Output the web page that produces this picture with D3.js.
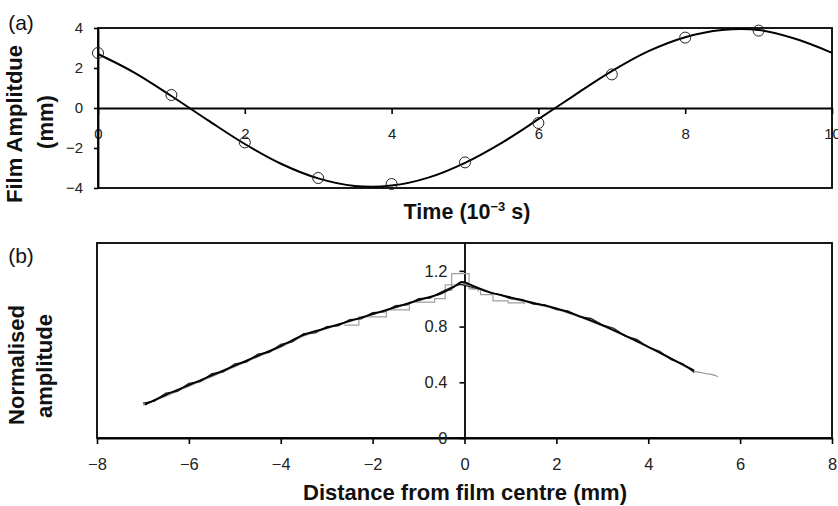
<!DOCTYPE html>
<html>
<head>
<meta charset="utf-8">
<script src="https://cdn.jsdelivr.net/npm/d3@7"></script>
<style>
  html, body { margin: 0; padding: 0; background: #fff; }
  svg { display: block; font-family: "Liberation Sans", Arial, sans-serif; }
</style>
</head>
<body>
<svg id="chart" width="838" height="506"></svg>
<script>
'use strict';

// (a) film amplitude vs time
var timeTicks = [0, 2, 4, 6, 8, 10];
var ampTicks = [-4, -2, 0, 2, 4];
var timeLine = [0, 0.5, 1, 1.5, 2, 2.5, 3, 3.5, 4, 4.5, 5, 5.5, 6, 6.5, 7, 7.5, 8, 8.5, 9, 9.5, 10];
var ampLine = [2.7, 1.76, 0.6, -0.62, -1.8, -2.8, -3.52, -3.9, -3.88, -3.48, -2.74, -1.74, -0.56, 0.66, 1.84, 2.84, 3.54, 3.9, 3.9, 3.46, 2.76];
var timePts = [0, 1, 2, 3, 4, 5, 6, 7, 8, 9];
var ampPts = [2.75, 0.65, -1.72, -3.5, -3.8, -2.72, -0.75, 1.68, 3.52, 3.87];

// (b) normalised amplitude vs distance
var distTicks = [-8, -6, -4, -2, 0, 2, 4, 6, 8];
var normTicks = [0, 0.4, 0.8, 1.2];
var distMain = [-6.96, -6.5, -6, -5.5, -5, -4.5, -4, -3.5, -3, -2.5, -2, -1.5, -1, -0.5, -0.25, -0.05, 0.2, 0.5, 1, 1.5, 2, 2.5, 3, 3.5, 4, 4.5, 5];
var normMain = [0.24, 0.31, 0.38, 0.45, 0.52, 0.59, 0.66, 0.74, 0.79, 0.84, 0.89, 0.94, 0.99, 1.04, 1.08, 1.12, 1.09, 1.05, 1.01, 0.97, 0.93, 0.875, 0.81, 0.735, 0.655, 0.57, 0.485];
var distBraid = [-7, -6.75, -6.5, -6.25, -6, -5.75, -5.5, -5.25, -5, -4.75, -4.5, -4.25, -4, -3.75, -3.5, -3.25, -3, -2.75, -2.5, -2.25, -2, -1.75, -1.5, -1.25, -1, -0.75, -0.5, -0.3, -0.1, 0.2, 0.4, 0.6, 0.8, 1, 1.25, 1.5, 1.75, 2, 2.25, 2.5, 2.75, 3, 3.25, 3.5, 3.75, 4, 4.25, 4.5, 4.75, 5];
var normBraid = [0.25, 0.265, 0.322, 0.334, 0.392, 0.404, 0.462, 0.474, 0.532, 0.544, 0.602, 0.614, 0.672, 0.69, 0.75, 0.755, 0.8, 0.805, 0.85, 0.855, 0.9, 0.905, 0.95, 0.955, 1.0, 1.005, 1.05, 1.08, 1.105, 1.08, 1.065, 1.04, 1.03, 1.0, 0.995, 0.962, 0.955, 0.922, 0.912, 0.872, 0.858, 0.812, 0.788, 0.732, 0.708, 0.652, 0.623, 0.562, 0.533, 0.47];
var distGrey = [-7, -6.5, -6, -5.5, -5, -4.5, -4, -3.5, -3, -2.5, -2, -1.5, -1, -0.5, -0.2, 0, 0.3, 0.6, 1, 1.5, 2, 2.5, 3, 3.5, 4, 4.5, 5, 5.15, 5.25, 5.35, 5.45, 5.52];
var normGrey = [0.235, 0.3, 0.372, 0.44, 0.512, 0.582, 0.652, 0.732, 0.785, 0.835, 0.885, 0.935, 0.985, 1.035, 1.09, 1.11, 1.08, 1.045, 1.0, 0.965, 0.925, 0.87, 0.805, 0.73, 0.65, 0.565, 0.478, 0.47, 0.462, 0.458, 0.45, 0.44];
var distStep = [-2.62, -2.3, -1.7, -1.2, -0.65, -0.42, 0.16, 0.35, 0.62, 0.95, 1.3];
var normStep = [0.81, 0.87, 0.92, 0.975, 1.0, 1.1, 1.07, 1.03, 0.985, 0.97, 0.96];
var distPeak = [-0.45, -0.28, 0.1, 0.3];
var normPeak = [1.06, 1.18, 1.07, 1.05];

var svg = d3.select('#chart');

function zip(xs, ys){
  return xs.map(function(x, i){ return [x, ys[i]]; });
}

function styleAxis(g, size){
  g.selectAll('.tick line').attr('stroke', '#000').attr('stroke-width', 1.6);
  g.selectAll('.tick text')
    .attr('fill', '#222')
    .style('font-size', size + 'px');
}

//panel (a)
var xA = d3.scaleLinear().domain([0, 10]).range([98, 832]);
var yA = d3.scaleLinear().domain([-4, 4]).range([188, 28]);

svg.append('rect')
  .attr('x', xA(0)).attr('y', yA(4))
  .attr('width', xA(10) - xA(0)).attr('height', yA(-4) - yA(4))
  .attr('fill', 'none').attr('stroke', '#000').attr('stroke-width', 1.8);

var gxA = svg.append('g')
  .attr('transform', 'translate(0,' + yA(0) + ')')
  .call(d3.axisBottom(xA).tickValues(timeTicks).tickSize(6).tickSizeOuter(0).tickPadding(14));
gxA.select('.domain').attr('stroke', '#000').attr('stroke-width', 1.8);
styleAxis(gxA, 15);

var gyA = svg.append('g')
  .attr('transform', 'translate(' + xA(0) + ',0)')
  .call(d3.axisLeft(yA).tickValues(ampTicks).tickSize(4).tickSizeOuter(0).tickPadding(11));
gyA.select('.domain').attr('stroke', '#000').attr('stroke-width', 1.8);
styleAxis(gyA, 15);

var lineA = d3.line()
  .x(function(d){ return xA(d[0]); })
  .y(function(d){ return yA(d[1]); })
  .curve(d3.curveCatmullRom);

svg.append('path')
  .datum(zip(timeLine, ampLine))
  .attr('d', lineA)
  .attr('fill', 'none').attr('stroke', '#000').attr('stroke-width', 2);

svg.append('g').selectAll('circle')
  .data(zip(timePts, ampPts))
  .enter()
  .append('circle')
  .attr('cx', function(d){ return xA(d[0]); })
  .attr('cy', function(d){ return yA(d[1]); })
  .attr('r', 5.5)
  .attr('fill', 'none').attr('stroke', '#222').attr('stroke-width', 1);

//panel (b)
var xB = d3.scaleLinear().domain([-8, 8]).range([97, 832]);
var yB = d3.scaleLinear().domain([0, 1.4]).range([438, 243]);

svg.append('rect')
  .attr('x', xB(-8)).attr('y', yB(1.4))
  .attr('width', xB(8) - xB(-8)).attr('height', yB(0) - yB(1.4))
  .attr('fill', 'none').attr('stroke', '#000').attr('stroke-width', 1.8);

var gxB = svg.append('g')
  .attr('transform', 'translate(0,' + yB(0) + ')')
  .call(d3.axisBottom(xB).tickValues(distTicks).tickSize(6).tickSizeOuter(0).tickPadding(14));
gxB.select('.domain').attr('stroke', '#000').attr('stroke-width', 1.8);
styleAxis(gxB, 16.5);

var gyB = svg.append('g')
  .attr('transform', 'translate(' + xB(0) + ',0)')
  .call(d3.axisLeft(yB).tickValues(normTicks).tickSize(5).tickSizeOuter(0).tickPadding(12)
    .tickFormat(function(d){ return d === 0 ? '0' : d3.format('.1f')(d); }));
gyB.select('.domain').attr('stroke', '#000').attr('stroke-width', 1.8);
styleAxis(gyB, 16.5);

var lineB = d3.line()
  .x(function(d){ return xB(d[0]); })
  .y(function(d){ return yB(d[1]); });

svg.append('path')
  .datum(zip(distGrey, normGrey))
  .attr('d', lineB)
  .attr('fill', 'none').attr('stroke', '#9a9a9a').attr('stroke-width', 1.2);

svg.append('path')
  .datum(zip(distStep, normStep))
  .attr('d', lineB.curve(d3.curveStepAfter))
  .attr('fill', 'none').attr('stroke', '#a0a0a0').attr('stroke-width', 1.2);

svg.append('path')
  .datum(zip(distPeak, normPeak))
  .attr('d', lineB.curve(d3.curveStepAfter))
  .attr('fill', 'none').attr('stroke', '#a0a0a0').attr('stroke-width', 1.2);

svg.append('path')
  .datum(zip(distBraid, normBraid))
  .attr('d', lineB.curve(d3.curveLinear))
  .attr('fill', 'none').attr('stroke', '#222').attr('stroke-width', 1.3);

svg.append('path')
  .datum(zip(distMain, normMain))
  .attr('d', lineB.curve(d3.curveMonotoneX))
  .attr('fill', 'none').attr('stroke', '#000').attr('stroke-width', 1.8);

//labels
function label(x, y, txt, size, weight, rotate){
  var t = svg.append('text')
    .attr('x', x).attr('y', y)
    .attr('text-anchor', 'middle')
    .attr('fill', '#111')
    .style('font-size', size + 'px')
    .style('font-weight', weight)
    .text(txt);
  if (rotate){
    t.attr('dominant-baseline', 'central')
      .attr('transform', 'rotate(-90,' + x + ',' + y + ')');
  }
  return t;
}

label(21, 30, '(a)', 21, 'normal');
label(21, 263, '(b)', 21, 'normal');

label(14, 124, 'Film Amplitdue', 22, 'bold', true);
label(45, 122, '(mm)', 22, 'bold', true);
label(16, 365, 'Normalised', 22, 'bold', true);
label(44, 366, 'amplitude', 22, 'bold', true);

var tt = label(467, 219, '', 21.5, 'bold');
tt.append('tspan').text('Time (10');
tt.append('tspan').attr('dy', -8).style('font-size', '13px').text('\u22123');
tt.append('tspan').attr('dy', 8).text(' s)');

label(465, 500, 'Distance from film centre (mm)', 22, 'bold');
</script>
</body>
</html>
